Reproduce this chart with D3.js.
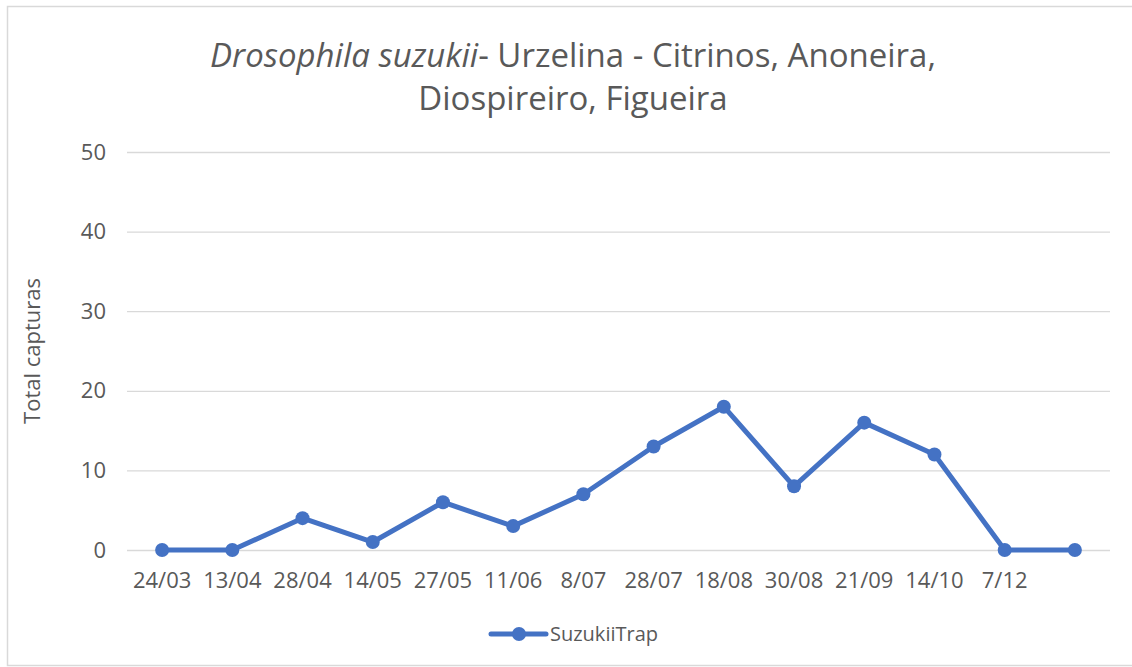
<!DOCTYPE html>
<html>
<head>
<meta charset="utf-8">
<script src="https://cdn.jsdelivr.net/npm/d3@7"></script>
<style>
  body { margin: 0; background: #fff; }
  svg text { font-family: "Open Sans", "Noto Sans", sans-serif; fill: #595959; }
</style>
</head>
<body>
<div id="chart"></div>
<script>
// dates of the trap readings (last reading has no label)
const categories = ['24/03', '13/04', '28/04', '14/05', '27/05', '11/06', '8/07', '28/07', '18/08', '30/08', '21/09', '14/10', '7/12', ''];
const captures = [0, 0, 4, 1, 6, 3, 7, 13, 18, 8, 16, 12, 0, 0];
const yTicks = [0, 10, 20, 30, 40, 50];
const seriesName = 'SuzukiiTrap';

const width = 1132, height = 667;
const margin = { top: 152, right: 22, bottom: 117, left: 127 };
const chartW = width - margin.left - margin.right;
const chartH = height - margin.top - margin.bottom;
const blue = '#4472C4';

const svg = d3.select('#chart').append('svg')
  .attr('width', width)
  .attr('height', height);

// outer chart border
svg.append('rect')
  .attr('x', 7.5).attr('y', 6.5)
  .attr('width', width).attr('height', 659)
  .attr('fill', 'none')
  .attr('stroke', '#d9d9d9')
  .attr('stroke-width', 1.5);

// title
const title = svg.append('text')
  .attr('text-anchor', 'middle')
  .attr('font-size', 33);
const t1 = title.append('tspan').attr('x', 573).attr('y', 67);
t1.append('tspan').attr('font-style', 'italic').text('Drosophila suzukii');
t1.append('tspan').text('- Urzelina - Citrinos, Anoneira,');
title.append('tspan').attr('x', 573).attr('y', 110).text('Diospireiro, Figueira');

const g = svg.append('g')
  .attr('transform', `translate(${margin.left},${margin.top})`);

const x = d3.scaleBand()
  .domain(d3.range(categories.length))
  .range([0, chartW]);

const y = d3.scaleLinear()
  .domain([0, 50])
  .range([chartH, 0]);

// gridlines
g.append('g')
  .attr('class', 'grid')
  .call(d3.axisLeft(y).tickValues(yTicks).tickSize(-chartW).tickFormat(''))
  .call(s => s.select('.domain').remove())
  .selectAll('line')
  .attr('stroke', '#d9d9d9')
  .attr('stroke-width', 1.3);

// y axis labels
g.append('g')
  .call(d3.axisLeft(y).tickValues(yTicks).tickSize(0).tickPadding(21))
  .call(s => s.select('.domain').remove())
  .selectAll('text')
  .attr('font-size', 22)
  .attr('fill', '#595959');

// x axis labels
g.append('g')
  .attr('transform', `translate(0,${chartH})`)
  .call(d3.axisBottom(x).tickSize(0).tickPadding(22).tickFormat(i => categories[i]))
  .call(s => s.select('.domain').remove())
  .selectAll('text')
  .attr('font-size', 22)
  .attr('fill', '#595959');

svg.selectAll('.tick text').style('font-family', '"Open Sans", "Noto Sans", sans-serif');

// y axis title
svg.append('text')
  .attr('transform', `translate(40,${margin.top + chartH / 2}) rotate(-90)`)
  .attr('text-anchor', 'middle')
  .attr('font-size', 22)
  .text('Total capturas');

// series line
const line = d3.line()
  .x((d, i) => x(i) + x.bandwidth() / 2)
  .y(d => y(d));

g.append('path')
  .datum(captures)
  .attr('fill', 'none')
  .attr('stroke', blue)
  .attr('stroke-width', 5)
  .attr('stroke-linejoin', 'round')
  .attr('d', line);

g.selectAll('.dot')
  .data(captures)
  .join('circle')
  .attr('class', 'dot')
  .attr('cx', (d, i) => x(i) + x.bandwidth() / 2)
  .attr('cy', d => y(d))
  .attr('r', 7)
  .attr('fill', blue);

// legend
const lg = svg.append('g').attr('transform', 'translate(491,634)');
lg.append('line')
  .attr('x1', 0).attr('x2', 55)
  .attr('stroke', blue)
  .attr('stroke-width', 5)
  .attr('stroke-linecap', 'round');
lg.append('circle').attr('cx', 28).attr('r', 7).attr('fill', blue);
lg.append('text')
  .attr('x', 59).attr('y', 7)
  .attr('font-size', 20)
  .text(seriesName);
</script>
</body>
</html>
